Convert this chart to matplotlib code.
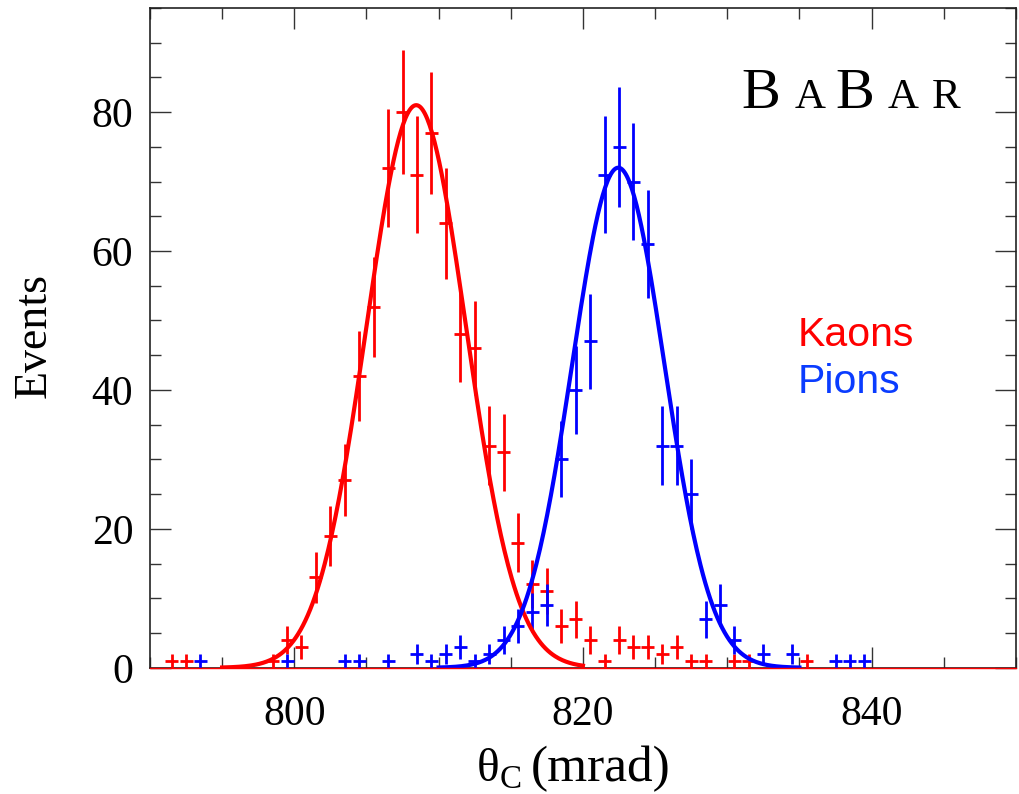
import numpy as np
import matplotlib
matplotlib.use('Agg')
import matplotlib.pyplot as plt
from matplotlib.ticker import MultipleLocator

# ------------------------------------------------------------------------------
# data (bin centres in mrad, counts per 1 mrad bin)
# ------------------------------------------------------------------------------
kaon_theta = [791.5, 792.5, 798.5, 799.5, 800.5, 801.5, 802.5, 803.5, 804.5,
              805.5, 806.5, 807.5, 808.5, 809.5, 810.5, 811.5, 812.5, 813.5,
              814.5, 815.5, 816.5, 817.5, 818.5, 819.5, 820.5, 821.5, 822.5,
              823.5, 824.5, 825.5, 826.5, 827.5, 828.5, 830.5, 831.5, 835.5]
kaon_counts = [1, 1, 1, 4, 3, 13, 19, 27, 42,
               52, 72, 80, 71, 77, 64, 48, 46, 32,
               31, 18, 12, 11, 6, 7, 4, 1, 4,
               3, 3, 2, 3, 1, 1, 1, 1, 1]

pion_theta = [793.5, 799.5, 803.5, 804.5, 806.5, 808.5, 809.5, 810.5, 811.5,
              812.5, 813.5, 814.5, 815.5, 816.5, 817.5, 818.5, 819.5, 820.5,
              821.5, 822.5, 823.5, 824.5, 825.5, 826.5, 827.5, 828.5, 829.5,
              830.5, 832.5, 834.5, 837.5, 838.5, 839.5]
pion_counts = [1, 1, 1, 1, 1, 2, 1, 2, 3,
               1, 2, 4, 6, 8, 9, 30, 40, 47,
               71, 75, 70, 61, 32, 32, 25, 7, 9,
               4, 2, 2, 1, 1, 1]

# gaussian fits: amplitude, mean, sigma, drawn range
kaon_fit = [81.0, 808.45, 3.45]
kaon_fit_range = [795.0, 820.0]
pion_fit = [72.0, 822.45, 3.2]
pion_fit_range = [810.0, 835.0]

x_ticks = [800, 820, 840]
y_ticks = [0, 20, 40, 60, 80]


def gauss(x, amp, mean, sigma):
    return amp * np.exp(-0.5 * ((x - mean) / sigma) ** 2)


plt.rcParams['font.family'] = ['Liberation Serif', 'DejaVu Serif']
plt.rcParams['mathtext.fontset'] = 'custom'
plt.rcParams['mathtext.rm'] = 'Liberation Serif'

fig = plt.figure(figsize=(10.2, 7.94), dpi=100)
ax = fig.add_axes([0.147, 0.159, 0.849, 0.831])

red = '#ff0000'
blue = '#0000ff'

ax.errorbar(kaon_theta, kaon_counts, xerr=0.45, yerr=np.sqrt(kaon_counts),
            fmt='none', ecolor=red, elinewidth=2.0, capsize=0, zorder=3)
ax.errorbar(pion_theta, pion_counts, xerr=0.45, yerr=np.sqrt(pion_counts),
            fmt='none', ecolor=blue, elinewidth=2.0, capsize=0, zorder=3)

xk = np.linspace(*kaon_fit_range, 300)
ax.plot(xk, gauss(xk, *kaon_fit), color=red, lw=3.0, zorder=4)
xp = np.linspace(*pion_fit_range, 300)
ax.plot(xp, gauss(xp, *pion_fit), color=blue, lw=3.0, zorder=4)
ax.axhline(0, color=red, lw=1.0, zorder=5, clip_on=False)

ax.set_xlim(790, 850)
ax.set_ylim(0, 95)
ax.set_xticks(x_ticks)
ax.set_yticks(y_ticks)
ax.xaxis.set_minor_locator(MultipleLocator(5))
ax.yaxis.set_minor_locator(MultipleLocator(5))

ax.tick_params(which='both', direction='in', top=True, right=True,
               color='#333333', width=1.0)
ax.tick_params(which='major', length=15)
ax.tick_params(which='minor', length=8)
ax.tick_params(axis='x', which='major', labelsize=30, pad=20)
ax.tick_params(axis='y', which='major', labelsize=30, pad=12)

for s in ax.spines.values():
    s.set_color('#222222')
    s.set_linewidth(1.2)

fig.text(0.034, 0.578, 'Events', rotation=90, ha='center', va='center',
         fontsize=33)
fig.text(0.467, 0.016, 'θ$_{\\rm C}$', ha='left', va='baseline', fontsize=34)
fig.text(0.520, 0.016, '(mrad)', ha='left', va='baseline', fontsize=37)

# BABAR logo with small capitals
logo_y = 0.848
ax.text(0.683, logo_y, 'B', transform=ax.transAxes, fontsize=42, va='baseline')
ax.text(0.745, logo_y, 'A', transform=ax.transAxes, fontsize=31, va='baseline')
ax.text(0.792, logo_y, 'B', transform=ax.transAxes, fontsize=42, va='baseline')
ax.text(0.852, logo_y, 'A', transform=ax.transAxes, fontsize=31, va='baseline')
ax.text(0.903, logo_y, 'R', transform=ax.transAxes, fontsize=31, va='baseline')

ax.text(0.748, 0.488, 'Kaons', transform=ax.transAxes, color=red,
        fontsize=29.5, family='Liberation Sans', va='baseline')
ax.text(0.748, 0.417, 'Pions', transform=ax.transAxes, color='#0a3cff',
        fontsize=29.5, family='Liberation Sans', va='baseline')

fig.savefig('out.png', dpi=100, facecolor='white')
